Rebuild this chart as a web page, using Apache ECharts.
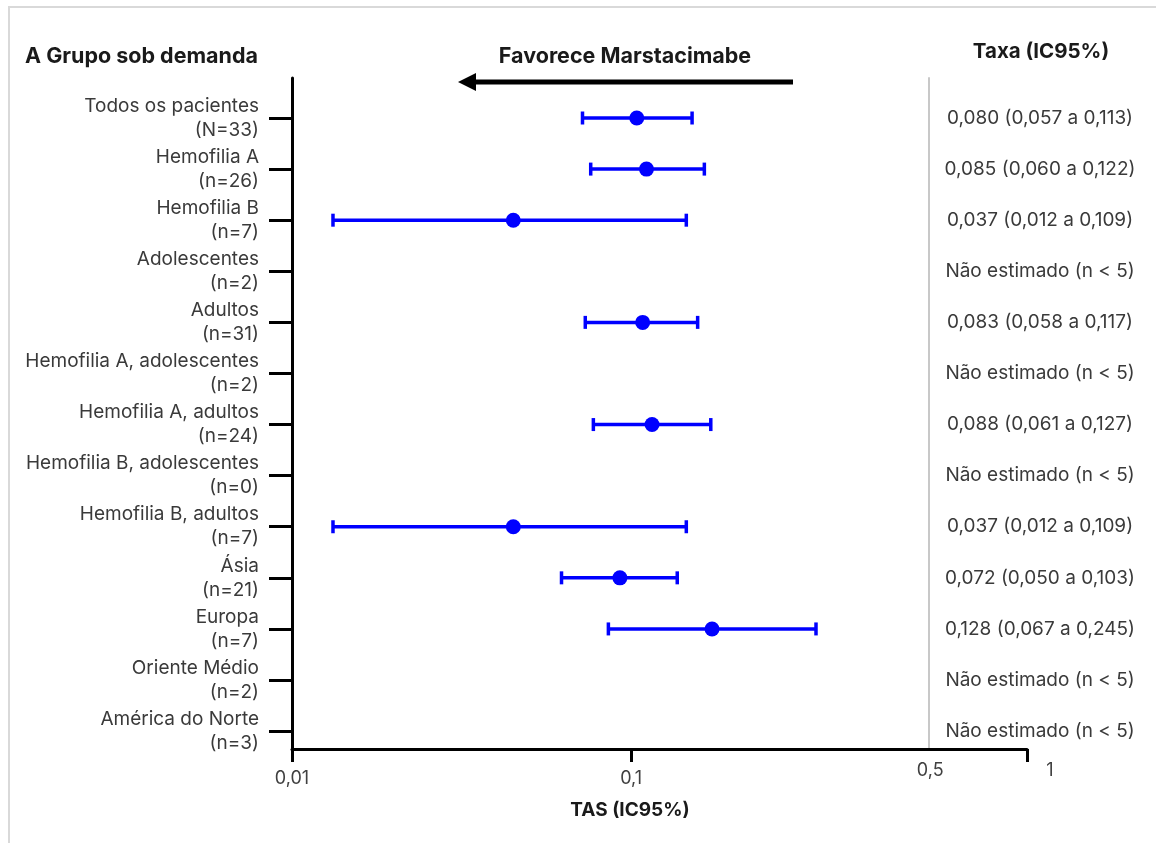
<!DOCTYPE html>
<html>
<head>
<meta charset="utf-8">
<script src="https://cdn.jsdelivr.net/npm/echarts@6/dist/echarts.min.js"></script>
<style>
  html, body { margin: 0; padding: 0; background: #fff; }
  #chart { width: 1156px; height: 843px; }
</style>
</head>
<body>
<div id="chart"></div>
<script>
// Subgroups (top to bottom) and their sizes
const groupNames = ['Todos os pacientes', 'Hemofilia A', 'Hemofilia B', 'Adolescentes', 'Adultos',
  'Hemofilia A, adolescentes', 'Hemofilia A, adultos', 'Hemofilia B, adolescentes',
  'Hemofilia B, adultos', 'Ásia', 'Europa', 'Oriente Médio', 'América do Norte'];
const groupN = ['N=33', 'n=26', 'n=7', 'n=2', 'n=31', 'n=2', 'n=24', 'n=0', 'n=7', 'n=21', 'n=7', 'n=2', 'n=3'];

// Annualised bleeding rate and 95% CI (null = not estimated, n < 5)
const rate  = [0.080, 0.085, 0.037, null, 0.083, null, 0.088, null, 0.037, 0.072, 0.128, null, null];
const lower = [0.057, 0.060, 0.012, null, 0.058, null, 0.061, null, 0.012, 0.050, 0.067, null, null];
const upper = [0.113, 0.122, 0.109, null, 0.117, null, 0.127, null, 0.109, 0.103, 0.245, null, null];

// Tick labels of the rate axis
const tickLabels = ['0,01', '0,1', '0,5', '1'];

const lg = Math.log10;
const fmt = v => v.toFixed(3).replace('.', ',');
const rows = groupNames.map((_, i) => i);

// log-scale extent of the rate axis and where its labels sit
const xMin = lg(0.00929), xMax = lg(0.915);
const labelAt = [xMin, lg(0.0772), lg(0.5), xMax];
const tickAt = [xMin, lg(0.0772), xMax];

const rateText = rate.map((r, i) => r == null ? 'Não estimado (n < 5)'
  : fmt(r) + ' (' + fmt(lower[i]) + ' a ' + fmt(upper[i]) + ')');

const whiskers = [], points = [];
rate.forEach((r, i) => {
  if (r == null) return;
  whiskers.push([lg(lower[i]), lg(upper[i]), i]);
  points.push([lg(r), i]);
});

const BLUE = '#0000ff';
const FONT = 'Inter, "Noto Sans", sans-serif';
const nearest = (v, arr) => arr.reduce((b, a, k) => Math.abs(a - v) < Math.abs(arr[b] - v) ? k : b, 0);

const chart = echarts.init(document.getElementById('chart'));
chart.setOption({
  animation: false,
  backgroundColor: '#ffffff',
  textStyle: { fontFamily: FONT },
  grid: { left: 292, right: 129, top: 78, bottom: 94 },
  xAxis: {
    type: 'value',
    min: xMin,
    max: xMax,
    splitLine: { show: false },
    axisLine: { onZero: false, lineStyle: { color: '#000', width: 3 } },
    axisTick: { customValues: tickAt, length: 13, lineStyle: { color: '#000', width: 3 } },
    axisLabel: {
      customValues: labelAt,
      margin: 13,
      color: '#404040',
      fontSize: 18,
      formatter: v => {
        const k = nearest(v, labelAt);
        const key = k < 2 ? 'lo' : (k === 2 ? 'hi' : 'one');
        return '{' + key + '|' + tickLabels[k] + '}';
      },
      rich: {
        lo: { fontSize: 18, lineHeight: 34, color: '#404040', fontFamily: FONT },
        hi: { fontSize: 18, lineHeight: 18, color: '#404040', fontFamily: FONT },
        one: { fontSize: 18, lineHeight: 18, color: '#404040', fontFamily: FONT, padding: [0, 0, 0, 46] }
      }
    },
    name: 'TAS (IC95%)',
    nameLocation: 'middle',
    nameGap: 52,
    nameTextStyle: { fontSize: 19, fontWeight: 'bold', color: '#1a1a1a', padding: [0, 59, 0, 0] }
  },
  yAxis: [
    {
      type: 'value',
      inverse: true,
      min: -0.783,
      max: 12.35,
      splitLine: { show: false },
      axisLine: { onZero: false, lineStyle: { color: '#000', width: 3 } },
      axisTick: { customValues: rows, length: 23, lineStyle: { color: '#000', width: 3 } },
      axisLabel: {
        customValues: rows,
        margin: 33,
        align: 'right',
        color: '#3a3a3a',
        fontSize: 19,
        lineHeight: 24,
        formatter: v => {
          const i = Math.round(v);
          return groupNames[i] + '\n(' + groupN[i] + ')';
        }
      }
    },
    {
      type: 'value',
      inverse: true,
      position: 'right',
      offset: -98,
      min: -0.783,
      max: 12.35,
      splitLine: { show: false },
      axisLine: { onZero: false, lineStyle: { color: '#c8c8c8', width: 2 } },
      axisTick: { show: false },
      axisLabel: {
        customValues: rows,
        margin: 111,
        align: 'center',
        color: '#3a3a3a',
        fontSize: 19,
        padding: [0, 0, 5, 0],
        formatter: v => rateText[Math.round(v)]
      }
    }
  ],
  graphic: [
    { type: 'rect', silent: true, z: -10,
      shape: { x: 9, y: 7, width: 1200, height: 900 },
      style: { fill: 'none', stroke: '#d9d9d9', lineWidth: 2 } },
    { type: 'text', x: 25, y: 57,
      style: { text: 'A Grupo sob demanda', font: 'bold 21.5px ' + FONT, fill: '#1a1a1a', align: 'left', verticalAlign: 'middle' } },
    { type: 'text', x: 625, y: 57,
      style: { text: 'Favorece Marstacimabe', font: 'bold 21.5px ' + FONT, fill: '#1a1a1a', align: 'center', verticalAlign: 'middle' } },
    { type: 'text', x: 1041, y: 52,
      style: { text: 'Taxa (IC95%)', font: 'bold 20.5px ' + FONT, fill: '#1a1a1a', align: 'center', verticalAlign: 'middle' } },
    // arrow pointing toward lower rates
    { type: 'line', shape: { x1: 793, y1: 82, x2: 470, y2: 82 }, style: { stroke: '#000', lineWidth: 5 } },
    { type: 'polygon', shape: { points: [[458, 82], [476, 73], [476, 91]] }, style: { fill: '#000' } }
  ],
  series: [
    {
      type: 'custom',
      data: whiskers,
      encode: { x: [0, 1], y: 2 },
      renderItem: (params, api) => {
        const a = api.coord([api.value(0), api.value(2)]);
        const b = api.coord([api.value(1), api.value(2)]);
        const h = 6.5;
        const st = { stroke: BLUE, lineWidth: 3.5 };
        return {
          type: 'group',
          children: [
            { type: 'line', shape: { x1: a[0], y1: a[1], x2: b[0], y2: b[1] }, style: st },
            { type: 'line', shape: { x1: a[0], y1: a[1] - h, x2: a[0], y2: a[1] + h }, style: st },
            { type: 'line', shape: { x1: b[0], y1: b[1] - h, x2: b[0], y2: b[1] + h }, style: st }
          ]
        };
      }
    },
    {
      type: 'scatter',
      data: points,
      symbol: 'circle',
      symbolSize: 15,
      itemStyle: { color: BLUE, opacity: 1 },
      z: 3
    }
  ]
});
</script>
</body>
</html>
